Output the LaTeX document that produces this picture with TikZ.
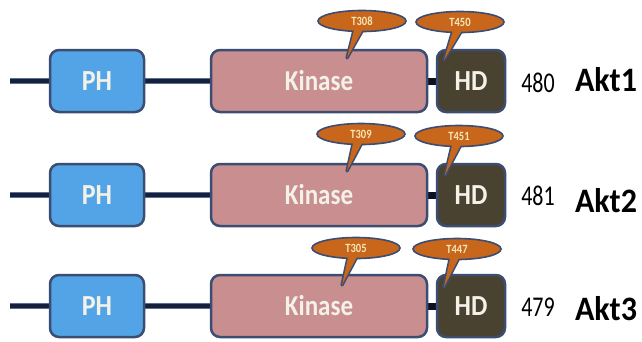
\documentclass[tikz,border=0pt]{standalone}
\usepackage{fontspec}
\setmainfont{Carlito}
\usetikzlibrary{shapes.geometric,backgrounds}
\definecolor{phblue}{HTML}{52A4E6}
\definecolor{kinpink}{HTML}{C98E8F}
\definecolor{hdbrown}{HTML}{4A4230}
\definecolor{edge}{HTML}{3C4D72}
\definecolor{spineedge}{HTML}{5A6E98}
\definecolor{spine}{HTML}{15213B}
\definecolor{linker}{HTML}{0B1022}
\definecolor{tagorange}{HTML}{C8661C}
\definecolor{tagtext}{HTML}{F6E7B5}
\definecolor{boxtext}{HTML}{F3F1E8}

% vertically stretched lettering
\newcommand{\stretchy}[2]{\scalebox{1}[#1]{#2}}

\tikzset{
  domainbox/.style={draw=edge, line width=2.5pt, rounded corners=9pt,
    minimum height=62pt, inner sep=0pt, text=boxtext,
    font=\fontsize{26}{26}\selectfont\bfseries},
  phbox/.style={domainbox, fill=phblue, minimum width=94pt},
  kinbox/.style={domainbox, fill=kinpink, minimum width=216pt,
    font=\fontsize{25}{25}\selectfont\bfseries},
  hdbox/.style={domainbox, fill=hdbrown, minimum width=68pt},
  backbone/.style={draw=spineedge, double=spine, double distance=3.4pt, line width=1.2pt},
  linkbar/.style={draw=linker, line width=7pt},
  sitetag/.style={ellipse, draw=edge, line width=1.6pt, fill=tagorange,
    minimum width=88pt, minimum height=21pt, inner sep=0pt},
  tagpointer/.style={draw=edge, line width=3.2pt, line join=round},
  tagfill/.style={fill=tagorange},
  tagtxt/.style={text=tagtext, font=\fontsize{10.5}{10.5}\selectfont\bfseries},
  lennum/.style={font=\fontsize{22}{22}\selectfont},
  aktname/.style={font=\fontsize{32}{32}\selectfont\bfseries},
}

\begin{document}
\begin{tikzpicture}[x=1pt,y=-1pt]
\useasboundingbox (0,0) rectangle (642,341);
\begin{scope}[on background layer]
  \fill[white] (0,0) rectangle (642,341);
\end{scope}

% row, centre y, length, length y, name y,
% kinase site, its tag centre, pointer tip, HD site, its tag centre, pointer tip
\foreach \r/\yc/\len/\ly/\ay/\ka/\kax/\kay/\ktx/\kty/\ha/\hax/\hay/\htx/\hty in {
  1/81/480/82.5/80/T308/362/21/347/58/T450/460/22/444/60,
  2/195/481/196/201/T309/361/134/347/171/T451/459/136/445/175,
  3/306/479/307/309/T305/356/248/342/285/T447/457/249/444/287}{
  % domains
  \node[phbox]  (ph\r)  at (97,\yc)  {\stretchy{1.12}{PH}};
  \node[kinbox] (kin\r) at (319,\yc) {\stretchy{1.15}{Kinase}};
  \node[hdbox]  (hd\r)  at (471,\yc) {\stretchy{1.12}{HD}};
  \coordinate (nterm\r) at (10,\yc);
  \begin{scope}[on background layer]
    \draw[backbone] (nterm\r) -- (ph\r.west);
    \draw[backbone] (ph\r.east) -- (kin\r.west);
    \draw[linkbar] (kin\r.east) -- (hd\r.west);
  \end{scope}
  % phosphorylation site callouts
  \coordinate (kc\r) at (\kax,\kay);
  \coordinate (hc\r) at (\hax,\hay);
  \coordinate (ktip\r) at (\ktx,\kty);
  \coordinate (htip\r) at (\htx,\hty);
  \draw[tagpointer] ([shift={(-7,5)}]kc\r) -- (ktip\r) -- ([shift={(3,5)}]kc\r);
  \draw[tagpointer] ([shift={(-6,5)}]hc\r) -- (htip\r) -- ([shift={(4,5)}]hc\r);
  \node[sitetag] (ksite\r) at (kc\r) {};
  \node[sitetag] (hsite\r) at (hc\r) {};
  \fill[tagfill] ([shift={(-7,5)}]ksite\r.center) -- (ktip\r) -- ([shift={(3,5)}]ksite\r.center) -- cycle;
  \fill[tagfill] ([shift={(-6,5)}]hsite\r.center) -- (htip\r) -- ([shift={(4,5)}]hsite\r.center) -- cycle;
  \node[tagtxt] at (ksite\r.center) {\stretchy{1.2}{\ka}};
  \node[tagtxt] at (hsite\r.center) {\stretchy{1.2}{\ha}};
  % length and isoform name
  \node[lennum]  (len\r) at (538,\ly) {\stretchy{1.3}{\len}};
  \node[aktname] (akt\r) at (606,\ay) {\stretchy{1.07}{Akt\r}};
}
\end{tikzpicture}
\end{document}
